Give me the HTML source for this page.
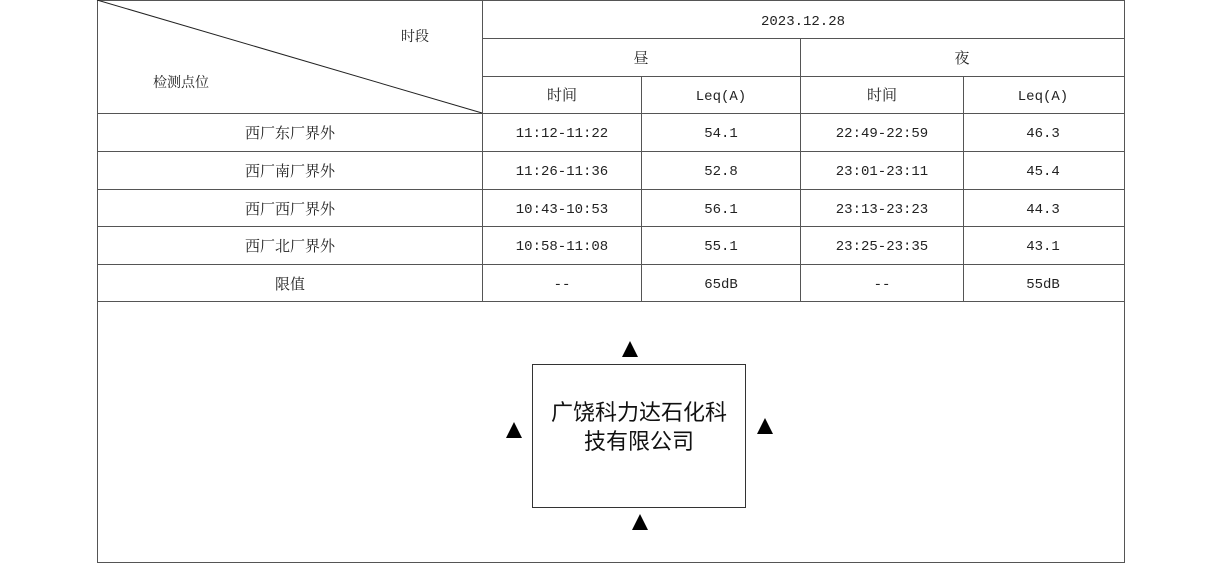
<!DOCTYPE html>
<html><head><meta charset="utf-8"><style>
html,body{margin:0;padding:0;background:#fff;}
svg{display:block;}
text{font-family:"Liberation Serif","Noto Serif CJK SC",serif;font-size:15px;fill:#222;}
.m{font-family:"Liberation Mono","Noto Serif CJK SC",monospace;font-size:14px;}
.c{font-family:"Liberation Sans","Noto Sans CJK SC",sans-serif;font-size:22px;fill:#111;}
</style></head><body>
<svg width="1219" height="575" viewBox="0 0 1219 575" xmlns="http://www.w3.org/2000/svg">
<g stroke="#555" stroke-width="1" fill="none" shape-rendering="crispEdges">
<rect x="97.5" y="0.5" width="1027" height="562"/>
<line x1="482.5" y1="0" x2="482.5" y2="301"/>
<line x1="641.5" y1="76" x2="641.5" y2="301"/>
<line x1="800.5" y1="38" x2="800.5" y2="301"/>
<line x1="963.5" y1="76" x2="963.5" y2="301"/>
<line x1="482" y1="38.5" x2="1124" y2="38.5"/>
<line x1="482" y1="76.5" x2="1124" y2="76.5"/>
<line x1="97" y1="113.5" x2="1124" y2="113.5"/>
<line x1="97" y1="151.5" x2="1124" y2="151.5"/>
<line x1="97" y1="189.5" x2="1124" y2="189.5"/>
<line x1="97" y1="226.5" x2="1124" y2="226.5"/>
<line x1="97" y1="264.5" x2="1124" y2="264.5"/>
<line x1="97" y1="301.5" x2="1124" y2="301.5"/>
<rect x="532.5" y="364.5" width="213" height="143" stroke="#333"/>
</g>
<line x1="97" y1="0" x2="482" y2="113" stroke="#222" stroke-width="1"/>
<text x="415" y="41" text-anchor="middle" style="font-size:14px">时段</text>
<text x="181" y="87" text-anchor="middle" style="font-size:14px">检测点位</text>
<g text-anchor="middle">
<text class="m" x="803" y="25">2023.12.28</text>
<text x="641" y="63">昼</text>
<text x="962" y="63">夜</text>
<text x="562" y="100">时间</text>
<text class="m" x="721" y="100">Leq(A)</text>
<text x="882" y="100">时间</text>
<text class="m" x="1043" y="100">Leq(A)</text>

<text x="290" y="138">西厂东厂界外</text>
<text class="m" x="562" y="137">11:12-11:22</text>
<text class="m" x="721" y="137">54.1</text>
<text class="m" x="882" y="137">22:49-22:59</text>
<text class="m" x="1043" y="137">46.3</text>

<text x="290" y="176">西厂南厂界外</text>
<text class="m" x="562" y="175">11:26-11:36</text>
<text class="m" x="721" y="175">52.8</text>
<text class="m" x="882" y="175">23:01-23:11</text>
<text class="m" x="1043" y="175">45.4</text>

<text x="290" y="214">西厂西厂界外</text>
<text class="m" x="562" y="213">10:43-10:53</text>
<text class="m" x="721" y="213">56.1</text>
<text class="m" x="882" y="213">23:13-23:23</text>
<text class="m" x="1043" y="213">44.3</text>

<text x="290" y="251">西厂北厂界外</text>
<text class="m" x="562" y="250">10:58-11:08</text>
<text class="m" x="721" y="250">55.1</text>
<text class="m" x="882" y="250">23:25-23:35</text>
<text class="m" x="1043" y="250">43.1</text>

<text x="290" y="289">限值</text>
<text class="m" x="562" y="288">--</text>
<text class="m" x="721" y="288">65dB</text>
<text class="m" x="882" y="288">--</text>
<text class="m" x="1043" y="288">55dB</text>

<text class="c" x="639" y="420">广饶科力达石化科</text>
<text class="c" x="639" y="449">技有限公司</text>
</g>
<g fill="#000">
<polygon points="630,341 638,357 622,357"/>
<polygon points="514,422 522,438 506,438"/>
<polygon points="765,418 773,434 757,434"/>
<polygon points="640,514 648,530 632,530"/>
</g>
</svg>
</body></html>
